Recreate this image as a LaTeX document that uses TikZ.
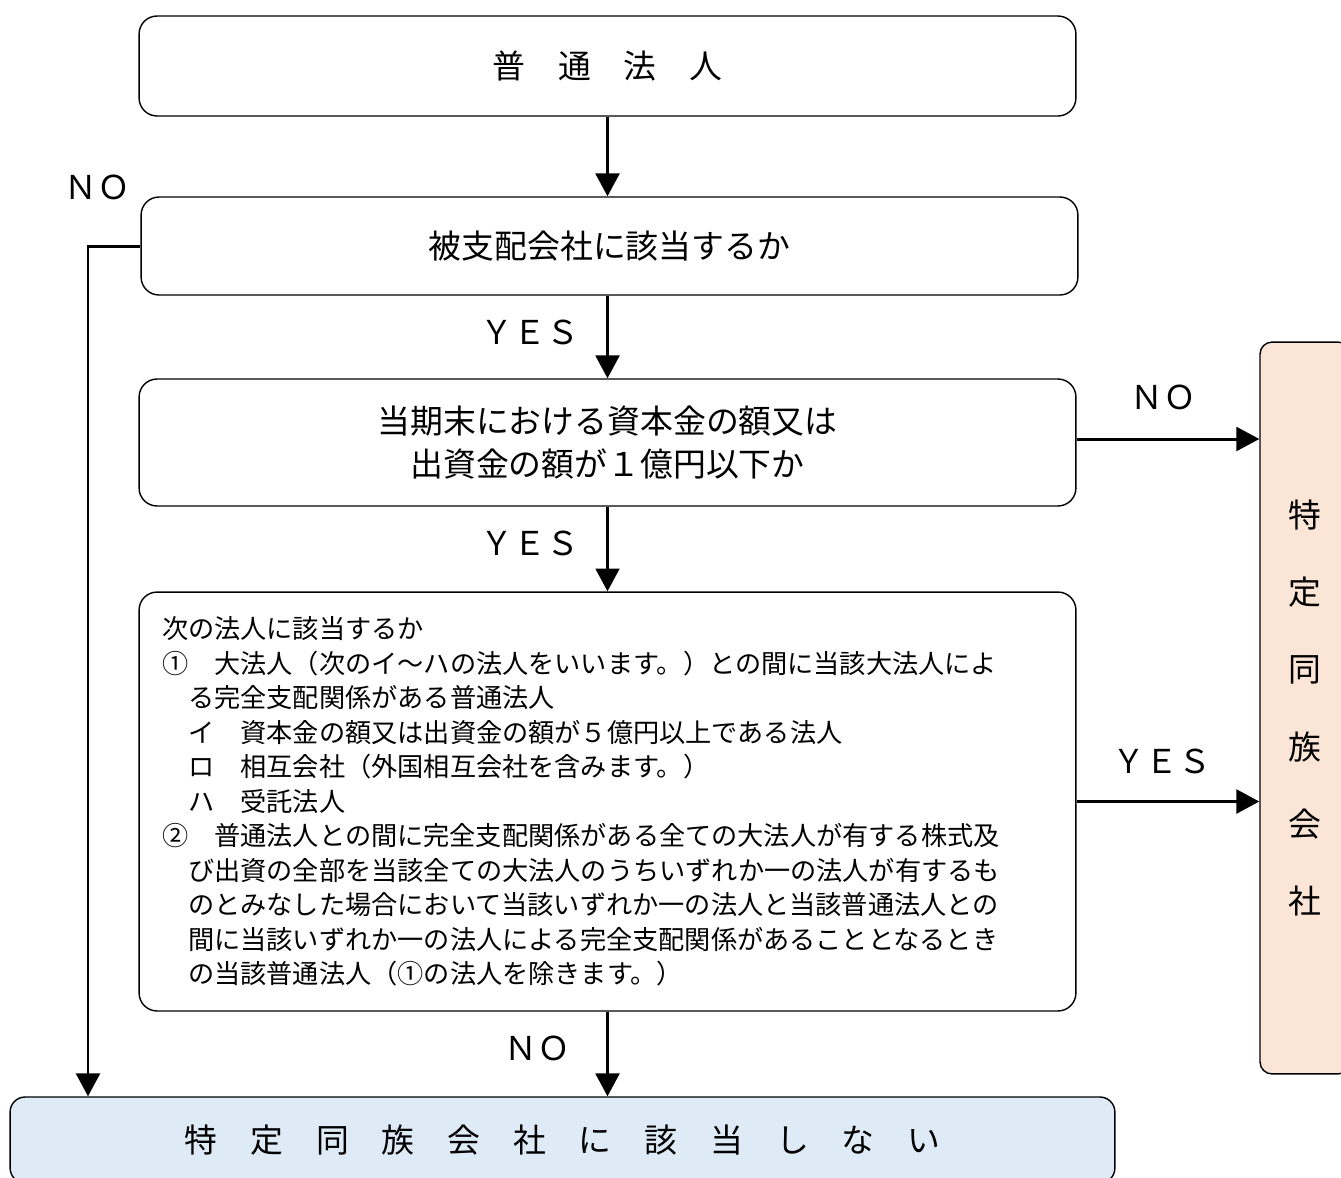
\documentclass[tikz,border=0pt]{standalone}
\usepackage{fontspec}
\newfontfamily\jp{Noto Sans CJK JP}
\usetikzlibrary{arrows.meta}
\definecolor{peach}{HTML}{FBE5D6}
\definecolor{paleblue}{HTML}{DEEBF7}
\begin{document}
\begin{tikzpicture}[x=0.02cm,y=-0.02cm,
  box/.style={draw=black,line width=0.8pt,rounded corners=0.36cm,inner sep=0pt,
    font=\jp\fontsize{18.7}{24.4}\selectfont,align=center},
  conn/.style={line width=1.7pt,-{Triangle[length=13pt,width=13.5pt]}},
  lbl/.style={font=\jp\fontsize{18.7}{24}\selectfont,inner sep=0pt}]
\useasboundingbox (0,0) rectangle (1341,1177);
\clip (0,0) rectangle (1341,1177);

\node[box,minimum width=18.74cm,minimum height=2cm] (b1) at (607.5,66) {普　通　法　人};
\node[box,minimum width=18.74cm,minimum height=1.96cm] (b2) at (609.5,246) {被支配会社に該当するか};
\node[box,minimum width=18.74cm,minimum height=2.54cm] (b3) at (607.5,442.5) {当期末における資本金の額又は\\出資金の額が１億円以下か};
\node[box,minimum height=8.38cm,text width=17.82cm,inner xsep=0.46cm,align=left,
  font=\jp\fontsize{14.9}{19.62}\selectfont] (b4) at (607.5,801.5) {次の法人に該当するか\\
①　大法人（次のイ～ハの法人をいいます。）との間に当該大法人によ\\
　る完全支配関係がある普通法人\\
　イ　資本金の額又は出資金の額が５億円以上である法人\\
　ロ　相互会社（外国相互会社を含みます。）\\
　ハ　受託法人\\
②　普通法人との間に完全支配関係がある全ての大法人が有する株式及\\
　び出資の全部を当該全ての大法人のうちいずれか一の法人が有するも\\
　のとみなした場合において当該いずれか一の法人と当該普通法人との\\
　間に当該いずれか一の法人による完全支配関係があることとなるとき\\
　の当該普通法人（①の法人を除きます。）};
\node[box,fill=peach,rounded corners=0.24cm,minimum width=1.8cm,minimum height=14.64cm,
  font=\jp\fontsize{18.7}{43.9}\selectfont] (tk) at (1305,708) {特\\定\\同\\族\\会\\社};
\node[box,fill=paleblue,rounded corners=0.3cm,minimum width=22.1cm,minimum height=1.72cm] (bot) at (562.5,1140) {特　定　同　族　会　社　に　該　当　し　な　い};

\coordinate (lc) at (88,0);

\draw[conn] (b1.south) -- (b1.south |- b2.north);
\draw[conn] (b1.south |- b2.south) -- (b1.south |- b3.north);
\draw[conn] (b3.south) -- (b3.south |- b4.north);
\draw[conn] (b4.south) -- (b4.south |- bot.north);
\draw[conn] ([yshift=0.07cm]b3.east) -- ([yshift=0.07cm]b3.east -| tk.west);
\draw[conn] (b4.east) -- (b4.east -| tk.west);
\draw[conn] (b2.west) -| (lc |- bot.north);

\node[lbl] (no1) at (97,187) {ＮＯ};
\node[lbl] (yes1) at (530,332) {ＹＥＳ};
\node[lbl] (no2) at (1163,397) {ＮＯ};
\node[lbl] (yes2) at (530,543) {ＹＥＳ};
\node[lbl] (yes3) at (1162,761) {ＹＥＳ};
\node[lbl] (no3) at (537,1048) {ＮＯ};
\end{tikzpicture}
\end{document}
